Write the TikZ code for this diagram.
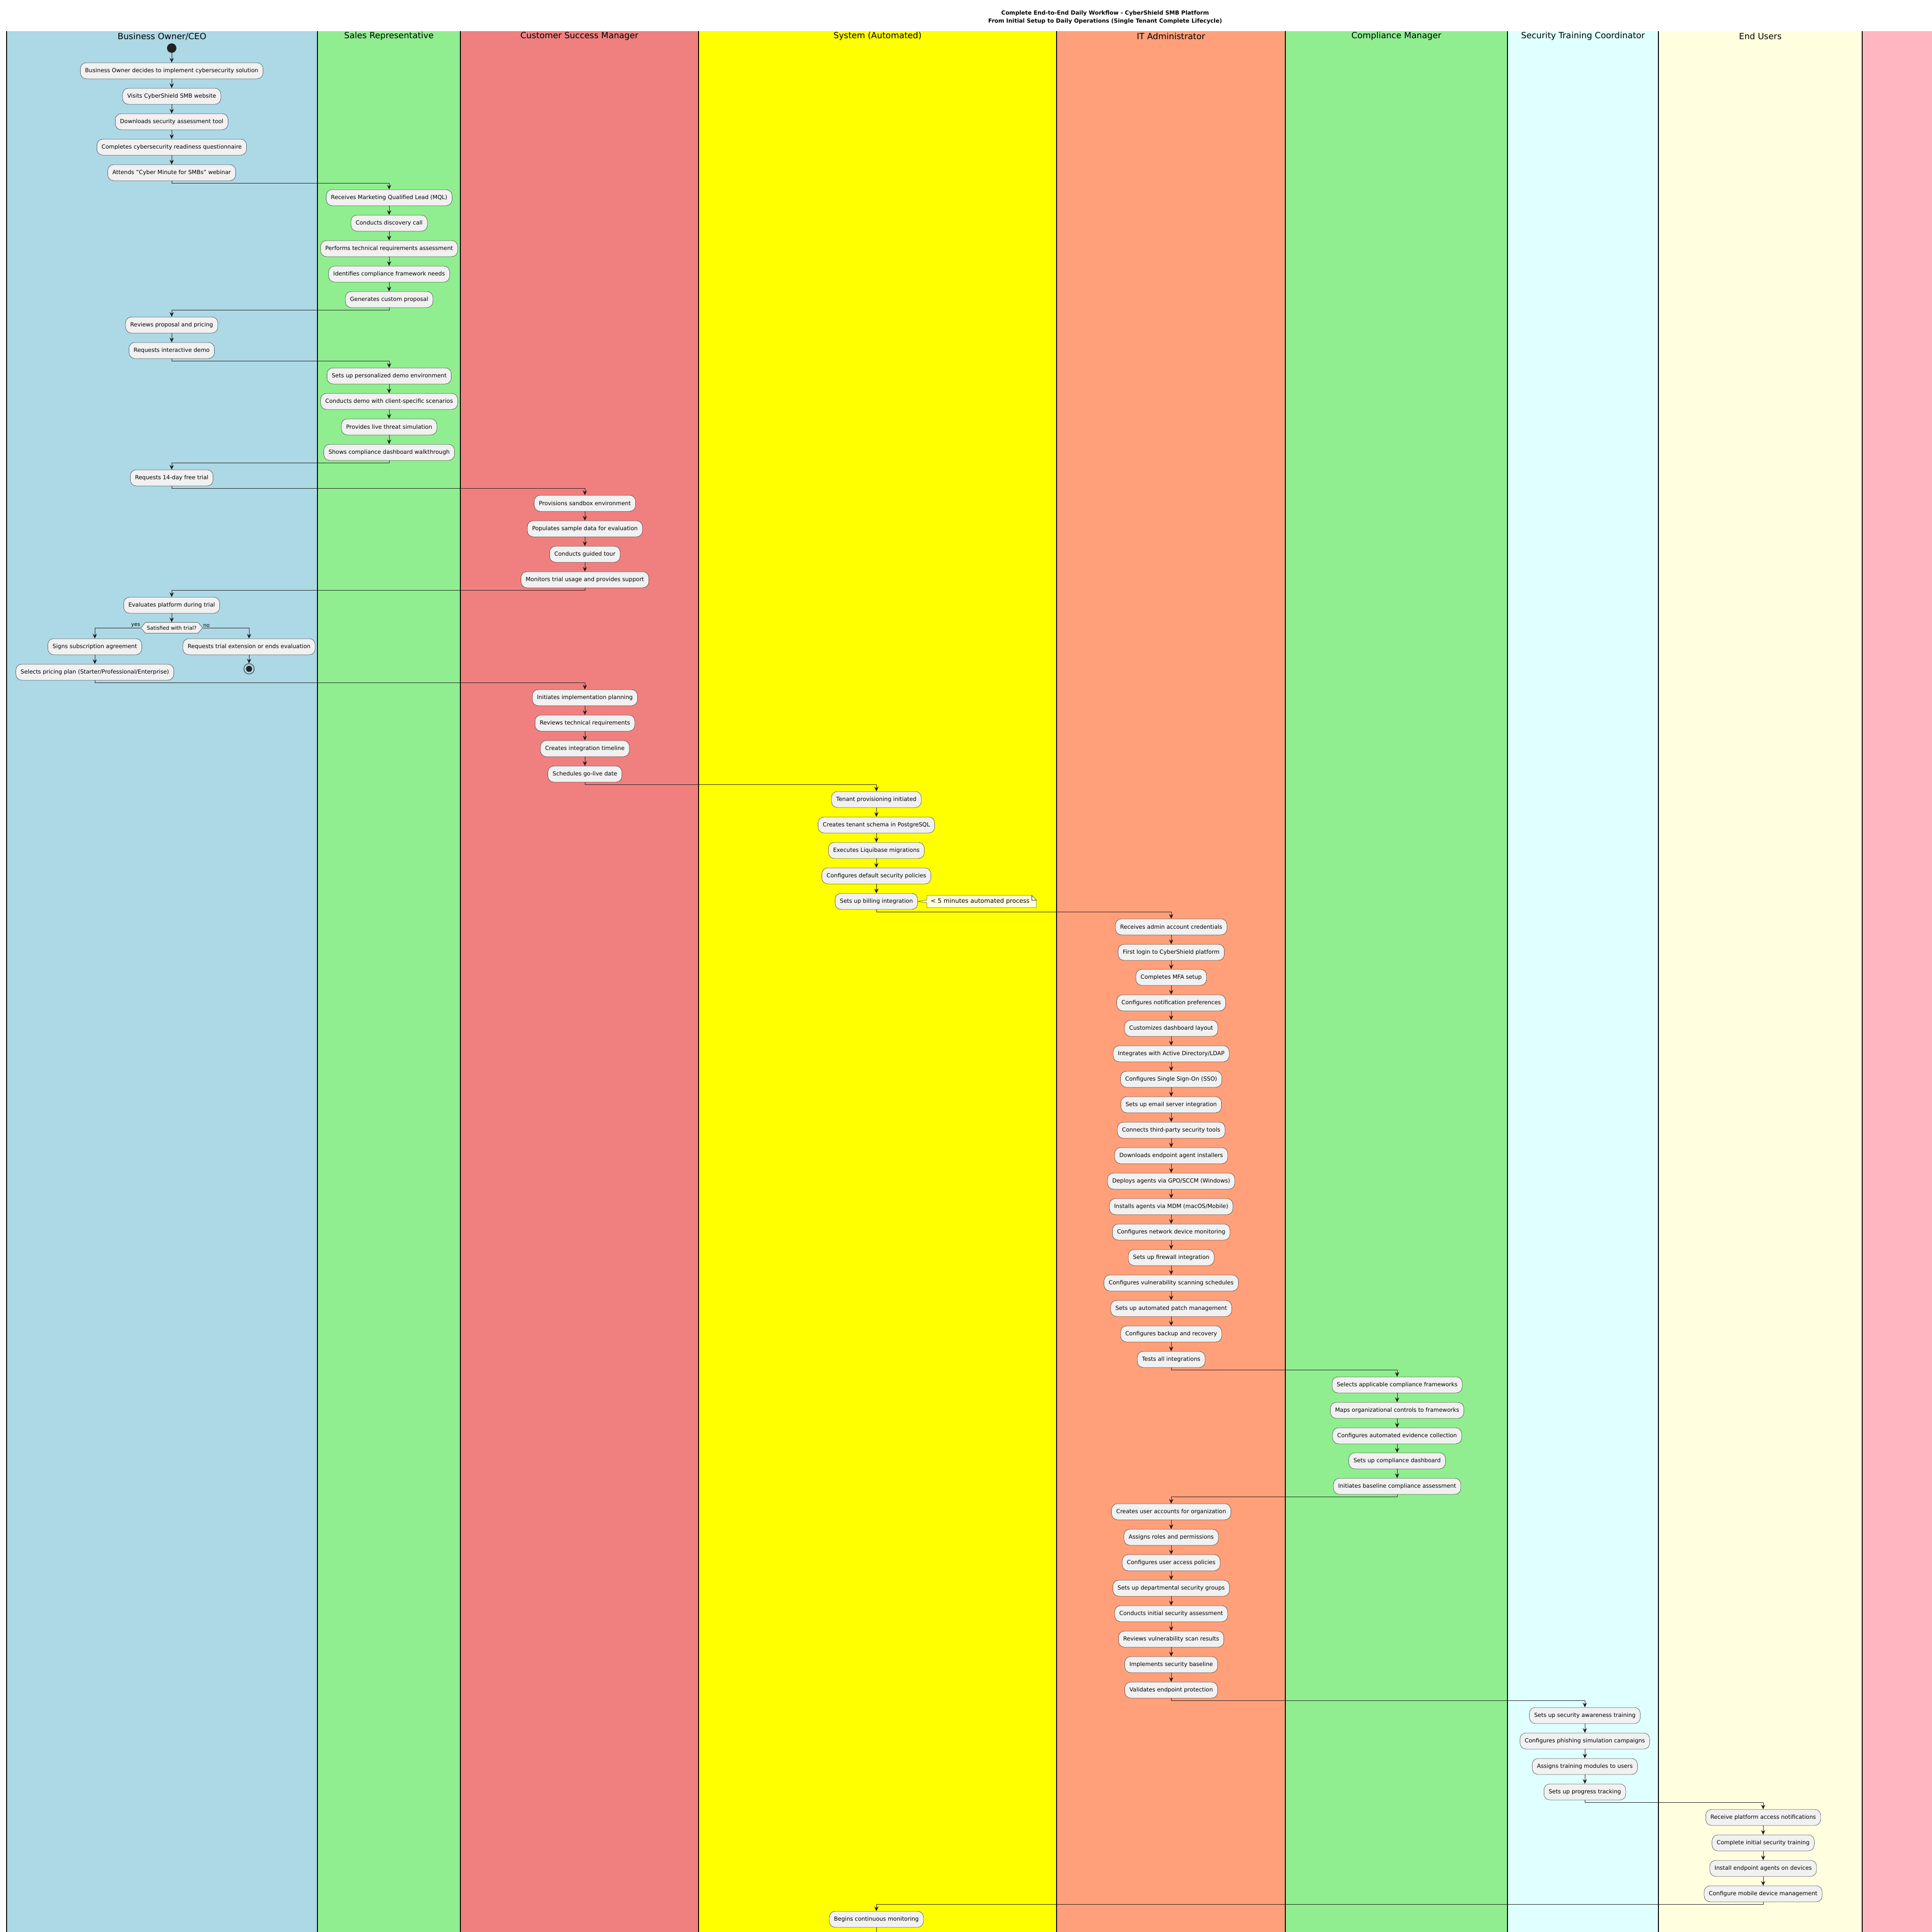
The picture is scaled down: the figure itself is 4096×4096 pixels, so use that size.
\documentclass[tikz,border=0pt]{standalone}
\usepackage{fontspec}
\setmainfont{DejaVu Sans}
\usetikzlibrary{arrows.meta,shapes.symbols}

\definecolor{ceofill}{HTML}{ADD8E6}
\definecolor{salfill}{HTML}{90EE90}
\definecolor{csmfill}{HTML}{F08080}
\definecolor{sysfill}{HTML}{FFFF00}
\definecolor{itfill}{HTML}{FFA07A}
\definecolor{comfill}{HTML}{90EE90}
\definecolor{trnfill}{HTML}{E0FFFF}
\definecolor{usrfill}{HTML}{FFFFE0}
\definecolor{extfill}{HTML}{FFB6C1}
\definecolor{actfill}{HTML}{F1F1F1}
\definecolor{notefill}{HTML}{FEFFDD}
\definecolor{linegray}{HTML}{181818}
\definecolor{dotgray}{HTML}{222222}

\tikzset{
  act/.style={draw=linegray, line width=0.5pt, fill=actfill, rounded corners=12.5pt,
    minimum height=34pt, inner xsep=10pt, inner ysep=0pt, font=\fontsize{12}{14}\selectfont},
  decision/.style={signal, signal to=west and east, signal pointer angle=100,
    draw=linegray, line width=0.5pt, fill=actfill, minimum height=23pt,
    inner xsep=3pt, inner ysep=0pt, font=\fontsize{11}{13}\selectfont},
  startdot/.style={circle, fill=dotgray, minimum size=20pt, inner sep=0pt},
  stopring/.style={circle, draw=dotgray, line width=1pt, minimum size=22pt, inner sep=0pt},
  flow/.style={draw=linegray, line width=1pt, -{Stealth[length=10pt,width=9pt,inset=3.5pt]}},
  tail/.style={draw=linegray, line width=1pt},
  laneline/.style={draw=black, line width=1.5pt},
  lanehead/.style={font=\fontsize{18}{21}\selectfont},
  title/.style={font=\fontsize{12}{14}\selectfont\bfseries},
  branch/.style={font=\fontsize{11}{13}\selectfont, inner sep=1pt},
  notebox/.style={draw=linegray, line width=0.5pt, fill=notefill},
  notetext/.style={anchor=west, inner sep=0pt, font=\fontsize{13}{15}\selectfont}
}

\begin{document}
\begin{tikzpicture}[x=1pt,y=-1pt]
% Page
\useasboundingbox (0,0) rectangle (4096,4096);
\fill[white] (0,0) rectangle (4096,4096);

% Lanes
\fill[ceofill] (14,66) rectangle (673,4096);
\fill[salfill] (673,66) rectangle (976,4096);
\fill[csmfill] (976,66) rectangle (1481,4096);
\fill[sysfill] (1481,66) rectangle (2240,4096);
\fill[itfill] (2240,66) rectangle (2725,4096);
\fill[comfill] (2725,66) rectangle (3196,4096);
\fill[trnfill] (3196,66) rectangle (3516,4096);
\fill[usrfill] (3516,66) rectangle (3948,4096);
\fill[extfill] (3948,66) rectangle (4096,4096);
\foreach \x in {14,673,976,1481,2240,2725,3196,3516,3948}
  \draw[laneline] (\x,66) -- (\x,4096);

% Title
\node[title] (title1) at (2343,28) {Complete End-to-End Daily Workflow - CyberShield SMB Platform};
\node[title] (title2) at (2343,45) {From Initial Setup to Daily Operations (Single Tenant Complete Lifecycle)};

% Lane headers
\node[lanehead] (hceo) at (343.5,77) {Business Owner/CEO};
\node[lanehead] (hsal) at (824.5,77) {Sales Representative};
\node[lanehead] (hcsm) at (1228.5,77) {Customer Success Manager};
\node[lanehead] (hsys) at (1860.5,77) {System (Automated)};
\node[lanehead] (hit) at (2482.5,77) {IT Administrator};
\node[lanehead] (hcom) at (2960.5,77) {Compliance Manager};
\node[lanehead] (htrn) at (3356,77) {Security Training Coordinator};
\node[lanehead] (husr) at (3732,77) {End Users};

% Sales cycle
\node[startdot] (start) at (364,102) {};
\node[act] (ceo1) at (364,150) {Business Owner decides to implement cybersecurity solution};
\node[act] (ceo2) at (364,204) {Visits CyberShield SMB website};
\node[act] (ceo3) at (364,258) {Downloads security assessment tool};
\node[act] (ceo4) at (364,312) {Completes cybersecurity readiness questionnaire};
\node[act] (ceo5) at (364,366) {Attends "Cyber Minute for SMBs" webinar};
\node[act] (sal1) at (825,419) {Receives Marketing Qualified Lead (MQL)};
\node[act] (sal2) at (825,473) {Conducts discovery call};
\node[act] (sal3) at (825,527) {Performs technical requirements assessment};
\node[act] (sal4) at (825,581) {Identifies compliance framework needs};
\node[act] (sal5) at (825,635) {Generates custom proposal};
\node[act] (ceo6) at (364,689) {Reviews proposal and pricing};
\node[act] (ceo7) at (364,743) {Requests interactive demo};
\node[act] (sal6) at (825,797) {Sets up personalized demo environment};
\node[act] (sal7) at (825,851) {Conducts demo with client-specific scenarios};
\node[act] (sal8) at (825,905) {Provides live threat simulation};
\node[act] (sal9) at (825,959) {Shows compliance dashboard walkthrough};
\node[act] (ceo8) at (364,1013) {Requests 14-day free trial};

% Trial
\node[act] (csm1) at (1240,1067) {Provisions sandbox environment};
\node[act] (csm2) at (1240,1121) {Populates sample data for evaluation};
\node[act] (csm3) at (1240,1175) {Conducts guided tour};
\node[act] (csm4) at (1240,1229) {Monitors trial usage and provides support};
\node[act] (ceo9) at (364,1283) {Evaluates platform during trial};
\node[decision] (dec) at (364,1331) {Satisfied with trial?};
\node[branch, anchor=south east] (yes) at (dec.west) {yes};
\node[branch, anchor=south west] (no) at (dec.east) {no};
\node[act] (ceo10) at (201,1371) {Signs subscription agreement};
\node[act] (ext) at (528,1371) {Requests trial extension or ends evaluation};
\node[stopring] (stop) at (528,1418) {};
\fill[dotgray] (stop) circle (6.5pt);
\node[act] (ceo11) at (201,1425) {Selects pricing plan (Starter/Professional/Enterprise)};

% Onboarding
\node[act] (csm5) at (1240,1479) {Initiates implementation planning};
\node[act] (csm6) at (1240,1533) {Reviews technical requirements};
\node[act] (csm7) at (1240,1587) {Creates integration timeline};
\node[act] (csm8) at (1240,1641) {Schedules go-live date};
\node[act] (sys1) at (1858,1695) {Tenant provisioning initiated};
\node[act] (sys2) at (1858,1749) {Creates tenant schema in PostgreSQL};
\node[act] (sys3) at (1858,1803) {Executes Liquibase migrations};
\node[act] (sys4) at (1858,1857) {Configures default security policies};
\node[act] (sys5) at (1858,1911) {Sets up billing integration};

% Note
\filldraw[notebox] (1965,1898) -- (2187,1898) -- (2197,1908) -- (2197,1924) -- (1965,1924)
  -- (1965,1914) -- ([xshift=1pt]sys5.east) -- (1965,1908) -- cycle;
\draw[notebox, fill=none] (2187,1898) -- (2187,1908) -- (2197,1908);
\node[notetext] (note) at (1973,1911) {< 5 minutes automated process};

% IT setup
\node[act] (it1) at (2483,1965) {Receives admin account credentials};
\node[act] (it2) at (2483,2019) {First login to CyberShield platform};
\node[act] (it3) at (2483,2072) {Completes MFA setup};
\node[act] (it4) at (2483,2126) {Configures notification preferences};
\node[act] (it5) at (2483,2180) {Customizes dashboard layout};
\node[act] (it6) at (2483,2234) {Integrates with Active Directory/LDAP};
\node[act] (it7) at (2483,2288) {Configures Single Sign-On (SSO)};
\node[act] (it8) at (2483,2342) {Sets up email server integration};
\node[act] (it9) at (2483,2396) {Connects third-party security tools};
\node[act] (it10) at (2483,2450) {Downloads endpoint agent installers};
\node[act] (it11) at (2483,2504) {Deploys agents via GPO/SCCM (Windows)};
\node[act] (it12) at (2483,2558) {Installs agents via MDM (macOS/Mobile)};
\node[act] (it13) at (2483,2612) {Configures network device monitoring};
\node[act] (it14) at (2483,2666) {Sets up firewall integration};
\node[act] (it15) at (2483,2720) {Configures vulnerability scanning schedules};
\node[act] (it16) at (2483,2774) {Sets up automated patch management};
\node[act] (it17) at (2483,2828) {Configures backup and recovery};
\node[act] (it18) at (2483,2882) {Tests all integrations};

% Compliance
\node[act] (com1) at (2962,2936) {Selects applicable compliance frameworks};
\node[act] (com2) at (2962,2990) {Maps organizational controls to frameworks};
\node[act] (com3) at (2962,3044) {Configures automated evidence collection};
\node[act] (com4) at (2962,3097) {Sets up compliance dashboard};
\node[act] (com5) at (2962,3151) {Initiates baseline compliance assessment};

% Users and baseline
\node[act] (it19) at (2483,3205) {Creates user accounts for organization};
\node[act] (it20) at (2483,3259) {Assigns roles and permissions};
\node[act] (it21) at (2483,3313) {Configures user access policies};
\node[act] (it22) at (2483,3367) {Sets up departmental security groups};
\node[act] (it23) at (2483,3421) {Conducts initial security assessment};
\node[act] (it24) at (2483,3475) {Reviews vulnerability scan results};
\node[act] (it25) at (2483,3529) {Implements security baseline};
\node[act] (it26) at (2483,3583) {Validates endpoint protection};

% Training and end users
\node[act] (trn1) at (3360,3637) {Sets up security awareness training};
\node[act] (trn2) at (3360,3691) {Configures phishing simulation campaigns};
\node[act] (trn3) at (3360,3745) {Assigns training modules to users};
\node[act] (trn4) at (3360,3799) {Sets up progress tracking};
\node[act] (usr1) at (3738,3853) {Receive platform access notifications};
\node[act] (usr2) at (3738,3907) {Complete initial security training};
\node[act] (usr3) at (3738,3961) {Install endpoint agents on devices};
\node[act] (usr4) at (3738,4015) {Configure mobile device management};
\node[act] (sys6) at (1858,4069) {Begins continuous monitoring};
\coordinate (cont) at (1858,4096);

% Connectors
\foreach \a/\b in {start/ceo1,ceo1/ceo2,ceo2/ceo3,ceo3/ceo4,ceo4/ceo5,
    sal1/sal2,sal2/sal3,sal3/sal4,sal4/sal5,ceo6/ceo7,sal6/sal7,sal7/sal8,sal8/sal9,
    csm1/csm2,csm2/csm3,csm3/csm4,ceo9/dec,ceo10/ceo11,ext/stop,
    csm5/csm6,csm6/csm7,csm7/csm8,sys1/sys2,sys2/sys3,sys3/sys4,sys4/sys5,
    it1/it2,it2/it3,it3/it4,it4/it5,it5/it6,it6/it7,it7/it8,it8/it9,it9/it10,
    it10/it11,it11/it12,it12/it13,it13/it14,it14/it15,it15/it16,it16/it17,it17/it18,
    com1/com2,com2/com3,com3/com4,com4/com5,
    it19/it20,it20/it21,it21/it22,it22/it23,it23/it24,it24/it25,it25/it26,
    trn1/trn2,trn2/trn3,trn3/trn4,usr1/usr2,usr2/usr3,usr3/usr4}
  \draw[flow] (\a.south) -- (\b.north);
\foreach \a/\b in {ceo5/sal1,sal5/ceo6,ceo7/sal6,sal9/ceo8,ceo8/csm1,csm4/ceo9,
    ceo11/csm5,csm8/sys1,sys5/it1,it18/com1,com5/it19,it26/trn1,trn4/usr1,usr4/sys6}
  \draw[flow] (\a.south) -- ++(0,5) -| (\b.north);
\draw[flow] (dec.west) -| (ceo10.north);
\draw[flow] (dec.east) -| (ext.north);
\draw[tail] (sys6.south) -- (cont);
\end{tikzpicture}
\end{document}
